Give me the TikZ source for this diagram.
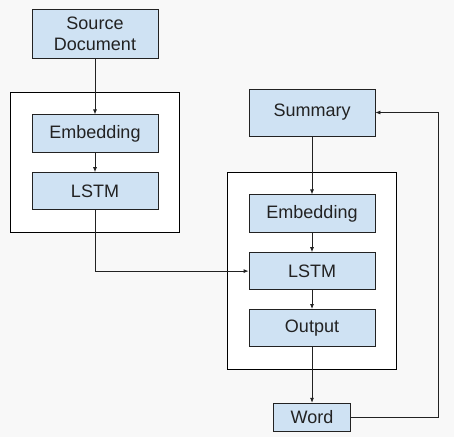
\documentclass[tikz,border=0pt]{standalone}
\usepackage{fontspec}
\setmainfont{Liberation Sans}
\usepackage{xcolor}
\usetikzlibrary{arrows.meta, positioning, fit}
\definecolor{boxblue}{HTML}{CFE2F3}
\definecolor{pagegray}{HTML}{F8F8F8}
\definecolor{inkgray}{HTML}{222222}
\pgfdeclarelayer{bg}
\pgfdeclarelayer{frm}
\pgfsetlayers{bg,frm,main}

\begin{document}
\begin{tikzpicture}[x=1pt, y=-1pt, node distance=19pt, >={Latex[length=5pt,width=4pt]}]
    \tikzstyle{block} = [rectangle, draw=inkgray, line width=0.8pt, fill=boxblue, text=inkgray, inner sep=0pt, minimum width=126pt, minimum height=37pt, align=center, font=\fontsize{18}{21}\selectfont]
    \tikzstyle{frame} = [rectangle, draw=black, line width=0.8pt, fill=white, inner xsep=21pt, inner ysep=22.5pt]
    \tikzstyle{link} = [->, line width=0.8pt, draw=inkgray]

    \begin{pgfonlayer}{bg}
        \fill[pagegray] (0,0) rectangle (454,437);
    \end{pgfonlayer}
    \useasboundingbox (0,0) rectangle (454,437);

    % encoder side
    \node [block, minimum height=49pt] (source) at (95,33.5) {Source\\Document};
    \node [block, below=56pt of source, minimum height=38pt] (lemb) {Embedding};
    \node [block, below=of lemb] (llstm) {LSTM};

    % decoder side
    \node [block, minimum height=47pt] (summary) at (312,112.5) {Summary};
    \node [block, below=58pt of summary, minimum height=38pt] (remb) {Embedding};
    \node [block, below=of remb] (rlstm) {LSTM};
    \node [block, below=of rlstm] (output) {Output};
    \node [block, below=56pt of output, minimum width=77pt, minimum height=28pt] (word) {Word};

    \begin{pgfonlayer}{frm}
        \node [frame, fit=(lemb) (llstm)] (encbox) {};
        \node [frame, fit=(remb) (output)] (decbox) {};
    \end{pgfonlayer}

    \draw [link] (source) -- (lemb);
    \draw [link] (lemb) -- (llstm);
    \draw [link] (llstm.south) |- (rlstm.west);
    \draw [link] (summary) -- (remb);
    \draw [link] (remb) -- (rlstm);
    \draw [link] (rlstm) -- (output);
    \draw [link] (output) -- (word);
    \draw [link] (word.east) -- ++(87,0) |- (summary.east);
\end{tikzpicture}
\end{document}
